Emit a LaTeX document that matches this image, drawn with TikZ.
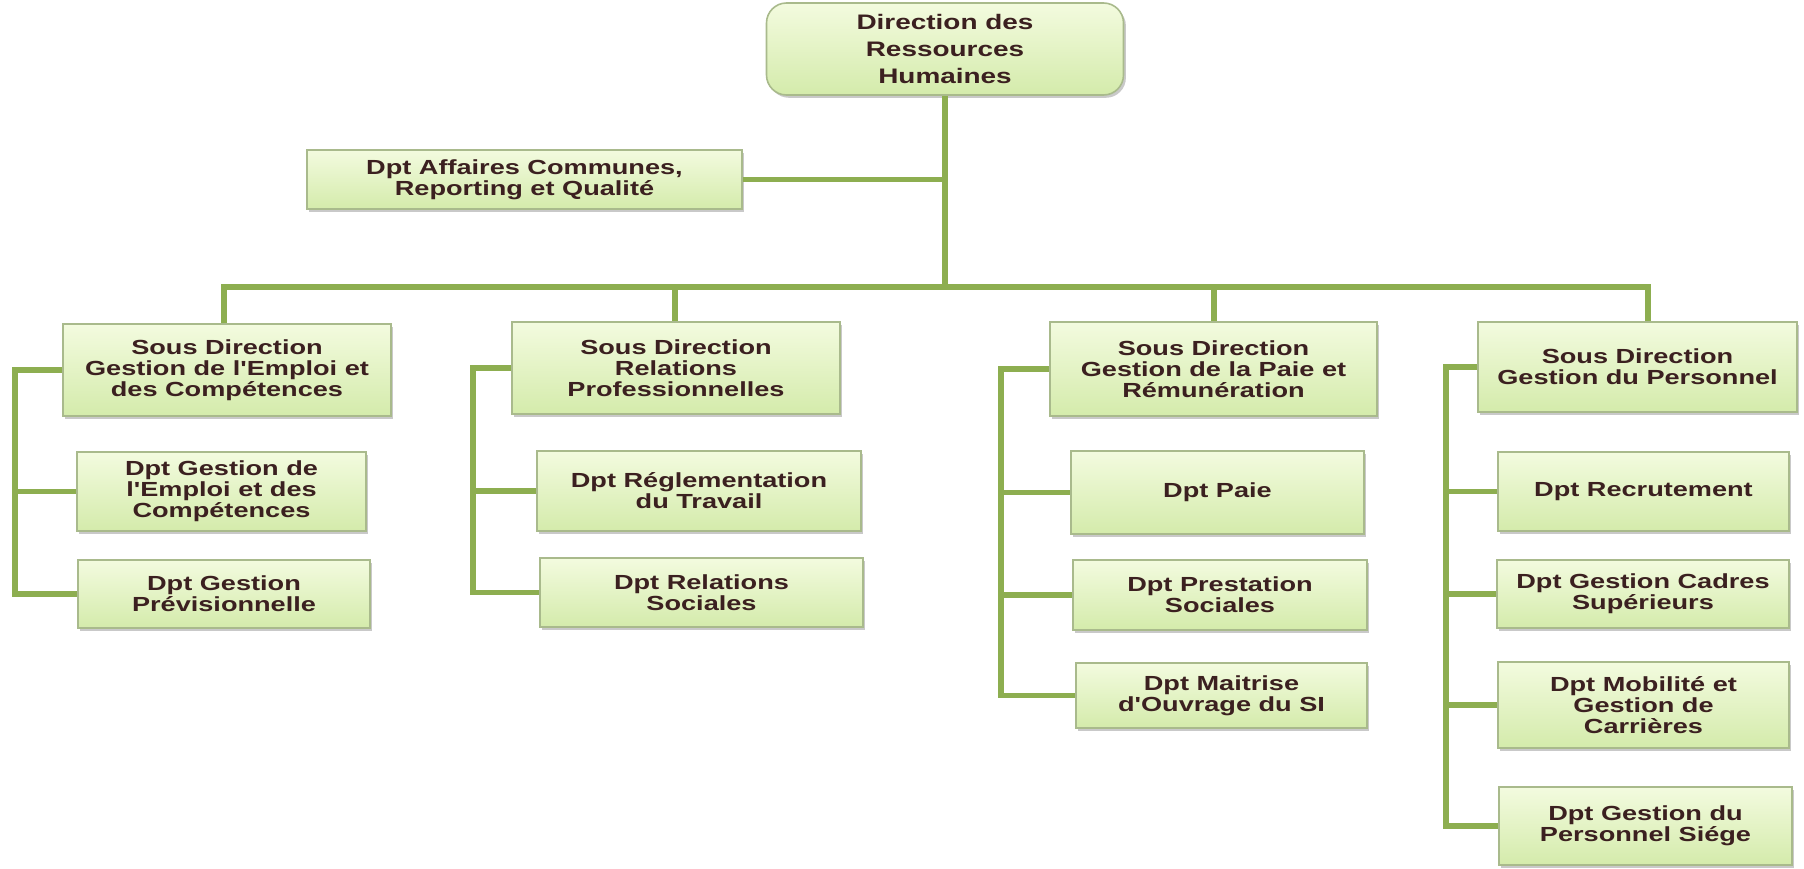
\documentclass[tikz,border=0pt]{standalone}
\usepackage{fontspec}
\setmainfont{Liberation Sans}[FakeStretch=1.33]
% same face without the TeX quote mapping, for straight apostrophes
\newfontfamily\straightface{Liberation Sans}[FakeStretch=1.33]
\usetikzlibrary{shadows}
\definecolor{boxtop}{HTML}{F3FBDF}
\definecolor{boxbot}{HTML}{D4EBAB}
\definecolor{boxline}{HTML}{A9BA8C}
\definecolor{wire}{HTML}{8DAE50}
\definecolor{ink}{HTML}{3B2020}
\newcommand{\apos}{{\straightface\bfseries '}}
\tikzset{
  unitbox/.style={draw=boxline, line width=0.8pt, top color=boxtop, bottom color=boxbot,
    align=center, text=ink, inner sep=2pt,
    font=\fontsize{10.2}{10.6}\selectfont\bfseries,
    drop shadow={shadow xshift=1.2pt, shadow yshift=-1.4pt, opacity=0.3, fill=black!70}},
  headbox/.style={unitbox, rounded corners=10pt, font=\fontsize{10.5}{13.5}\selectfont\bfseries},
  link/.style={draw=wire, line width=2.6pt, line join=miter}
}
\begin{document}
\begin{tikzpicture}[x=0.5pt, y=-0.5pt]
\useasboundingbox (0,0) rectangle (1804,868);

% head of the chart
\node[headbox, minimum width=178.5pt, minimum height=46pt] (top) at (945,49)
  {Direction des\\Ressources\\Humaines};
\node[unitbox, minimum width=217.5pt, minimum height=29.5pt] (aff) at (524.5,179.5)
  {Dpt Affaires Communes,\\Reporting et Qualité};

% sub-directions
\node[unitbox, minimum width=164pt, minimum height=46pt] (sd1) at (227,370)
  {Sous Direction\\Gestion de l\apos Emploi et\\des Compétences};
\node[unitbox, minimum width=164pt, minimum height=46pt] (sd2) at (676,368)
  {Sous Direction\\Relations\\Professionnelles};
\node[unitbox, minimum width=163.5pt, minimum height=47pt] (sd3) at (1213.5,369)
  {Sous Direction\\Gestion de la Paie et\\Rémunération};
\node[unitbox, minimum width=159.5pt, minimum height=45pt] (sd4) at (1637.5,367)
  {Sous Direction\\Gestion du Personnel};

% departments
\node[unitbox, minimum width=144.5pt, minimum height=39.5pt] (c11) at (221.5,491.5)
  {Dpt Gestion de\\l\apos Emploi et des\\Compétences};
\node[unitbox, minimum width=146pt, minimum height=34pt] (c12) at (224,594)
  {Dpt Gestion\\Prévisionnelle};

\node[unitbox, minimum width=162pt, minimum height=40pt] (c21) at (699,491)
  {Dpt Réglementation\\du Travail};
\node[unitbox, minimum width=161.5pt, minimum height=34.5pt] (c22) at (701.5,592.5)
  {Dpt Relations\\Sociales};

\node[unitbox, minimum width=146.5pt, minimum height=41.5pt] (c31) at (1217.5,492.5)
  {Dpt Paie};
\node[unitbox, minimum width=147pt, minimum height=35pt] (c32) at (1220,595)
  {Dpt Prestation\\Sociales};
\node[unitbox, minimum width=145.5pt, minimum height=32.5pt] (c33) at (1221.5,695.5)
  {Dpt Maitrise\\d\apos Ouvrage du SI};

\node[unitbox, minimum width=145.5pt, minimum height=39.5pt] (c41) at (1643.5,491.5)
  {Dpt Recrutement};
\node[unitbox, minimum width=146pt, minimum height=34pt] (c42) at (1643,594)
  {Dpt Gestion Cadres\\Supérieurs};
\node[unitbox, minimum width=145.5pt, minimum height=43pt] (c43) at (1643.5,705)
  {Dpt Mobilité et\\Gestion de\\Carrières};
\node[unitbox, minimum width=146.5pt, minimum height=39pt] (c44) at (1645.5,826)
  {Dpt Gestion du\\Personnel Siége};

% bus positions and side rails
\coordinate (bus) at (945,287);
\coordinate (d1) at (224,287);
\coordinate (d2) at (675,287);
\coordinate (d3) at (1214,287);
\coordinate (d4) at (1648,287);
\coordinate (r1) at (15,0);
\coordinate (r2) at (473,0);
\coordinate (r3) at (1001,0);
\coordinate (r4) at (1446,0);

% trunk and bus
\draw[link] (top.south) -- (bus);
\draw[link] (aff.east) -- (aff.east -| bus);
\draw[link, line cap=rect] (d1) -- (d4);
\draw[link] (d1) -- (d1 |- sd1.north);
\draw[link] (d2) -- (d2 |- sd2.north);
\draw[link] (d3) -- (d3 |- sd3.north);
\draw[link] (d4) -- (d4 |- sd4.north);

% column 1
\draw[link] (sd1.west) -- (sd1.west -| r1) |- (c12.west);
\draw[link] (c11.west -| r1) -- (c11.west);
% column 2
\draw[link] (sd2.west) -- (sd2.west -| r2) |- (c22.west);
\draw[link] (c21.west -| r2) -- (c21.west);
% column 3
\draw[link] (sd3.west) -- (sd3.west -| r3) |- (c33.west);
\draw[link] (c31.west -| r3) -- (c31.west);
\draw[link] (c32.west -| r3) -- (c32.west);
% column 4
\draw[link] (sd4.west) -- (sd4.west -| r4) |- (c44.west);
\draw[link] (c41.west -| r4) -- (c41.west);
\draw[link] (c42.west -| r4) -- (c42.west);
\draw[link] (c43.west -| r4) -- (c43.west);
\end{tikzpicture}
\end{document}
